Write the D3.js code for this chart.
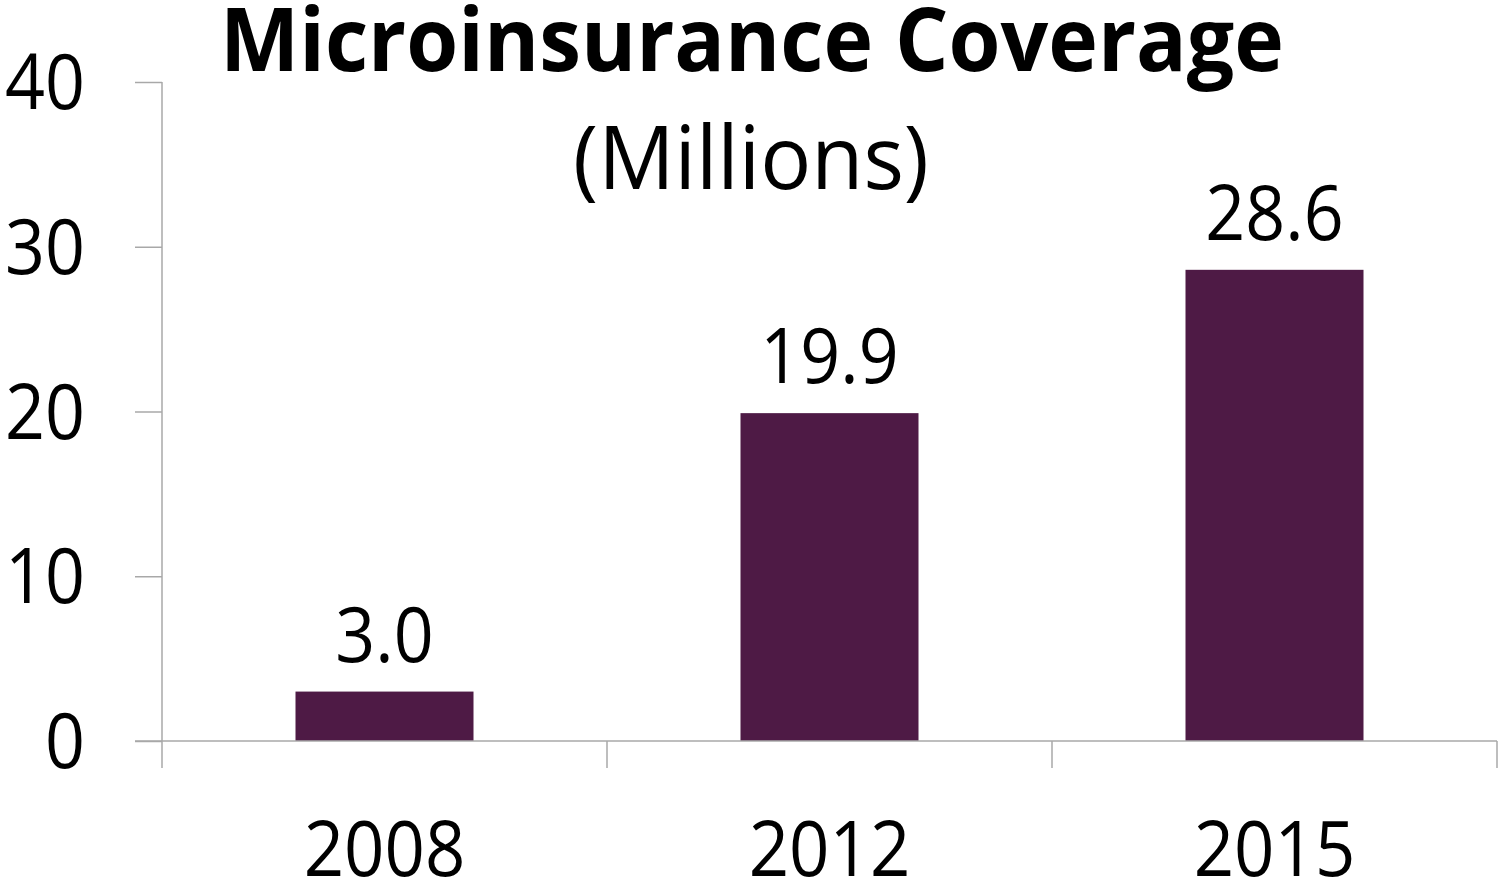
<!DOCTYPE html>
<html><head><meta charset="utf-8">
<script src="https://cdn.jsdelivr.net/npm/d3@7"></script>
<style>
html,body{margin:0;padding:0;background:#fff;}
svg text{font-family:"Open Sans","Noto Sans",sans-serif;fill:#000;}
</style></head>
<body><svg id="chart" width="1501" height="886"></svg>
<script>
const categories = ["2008", "2012", "2015"];
const values = [3.0, 19.9, 28.6];
const valueLabels = ["3.0", "19.9", "28.6"];
const yTicks = [0, 10, 20, 30, 40];
const titleText = "Microinsurance Coverage";
const subtitleText = "(Millions)";

const svg = d3.select("#chart");
const mLeft = 162, mRight = 1497, mTop = 82, mBottom = 741;
const axisColor = "#a8a8a8";

const x = d3.scaleBand().domain(categories).range([mLeft, mRight]).padding(0);
const y = d3.scaleLinear().domain([0, 40]).range([mBottom, mTop]);
const barW = x.bandwidth() * 0.4;

function sText(g, tx, ty, txt, size, weight, anchor, sx) {
  return g.append("text")
    .attr("transform", `translate(${tx},${ty}) scale(${sx},1)`)
    .attr("text-anchor", anchor || "middle")
    .style("font-size", size + "px")
    .style("font-weight", weight || 400)
    .text(txt);
}

// bars
svg.append("g").selectAll("rect").data(values).join("rect")
  .attr("x", (d, i) => x(categories[i]) + (x.bandwidth() - barW) / 2)
  .attr("y", d => y(d))
  .attr("width", barW)
  .attr("height", d => y(0) - y(d))
  .attr("fill", "#4e1a45");

// y axis
const yAxis = svg.append("g").attr("transform", `translate(${mLeft},0)`)
  .call(d3.axisLeft(y).tickValues(yTicks).tickSize(27).tickFormat(""));
yAxis.select(".domain").remove();
yAxis.selectAll("line").attr("stroke", axisColor).attr("stroke-width", 1.5);
svg.append("line").attr("x1", mLeft).attr("x2", mLeft).attr("y1", mTop).attr("y2", mBottom + 27)
  .attr("stroke", axisColor).attr("stroke-width", 1.5);
const yl = svg.append("g");
yTicks.forEach(t => sText(yl, 85, y(t) + 27, String(t), 76, 400, "end", 0.92));

// x axis
svg.append("line").attr("x1", mLeft - 27).attr("x2", mRight).attr("y1", mBottom).attr("y2", mBottom)
  .attr("stroke", axisColor).attr("stroke-width", 1.5);
const xtickPos = categories.map(c => x(c)).concat([mRight]);
svg.append("g").selectAll("line").data(xtickPos.slice(1)).join("line")
  .attr("x1", d => d).attr("x2", d => d).attr("y1", mBottom).attr("y2", mBottom + 27)
  .attr("stroke", axisColor).attr("stroke-width", 1.5);
const xl = svg.append("g");
categories.forEach(c => sText(xl, x(c) + x.bandwidth() / 2, 876, c, 76, 400, "middle", 0.93));

// value labels
const vl = svg.append("g");
values.forEach((v, i) => sText(vl, x(categories[i]) + x.bandwidth() / 2, y(v) - 30, valueLabels[i], 76, 400, "middle", 0.92));

// titles
sText(svg, 752, 71, titleText, 88, 700, "middle", 0.955);
sText(svg, 751, 189, subtitleText, 88, 400, "middle", 0.965);
</script></body></html>
